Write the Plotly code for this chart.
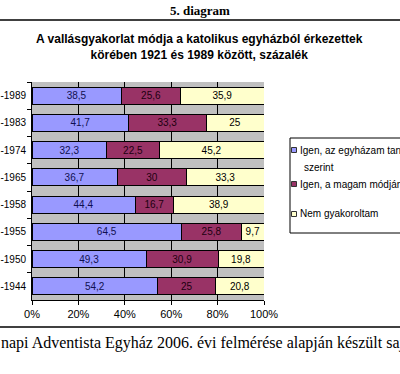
import plotly.graph_objects as go

categories = ["-1989", "-1983", "-1974", "-1965", "-1958", "-1955", "-1950", "-1944"]
church_way = [38.5, 41.7, 32.3, 36.7, 44.4, 64.5, 49.3, 54.2]
own_way = [25.6, 33.3, 22.5, 30, 16.7, 25.8, 30.9, 25]
not_practised = [35.9, 25, 45.2, 33.3, 38.9, 9.7, 19.8, 20.8]
series_names = ["Igen, az egyházam tanításai szerint", "Igen, a magam módján", "Nem gyakoroltam"]
legend_lines = [["Igen, az egyházam tanításai", "szerint"], ["Igen, a magam módján"], ["Nem gyakoroltam"]]
colors = ["#9999ff", "#993366", "#ffffcc"]
label_colors = ["#101050", "#200010", "#000000"]

def fmt(v):
    return ("%g" % v).replace(".", ",")

fig = go.Figure()
for vals, name, col, lc in zip([church_way, own_way, not_practised], series_names, colors, label_colors):
    fig.add_trace(go.Bar(
        y=categories, x=vals, orientation="h", name=name, showlegend=False,
        marker=dict(color=col, line=dict(color="black", width=1)),
        text=[fmt(v) for v in vals], textposition="inside", insidetextanchor="middle",
        constraintext="none", textangle=0,
        textfont=dict(family="Liberation Sans, Arial", size=10, color=lc),
    ))

W, H = 400, 374
L, R, T, B = 32, 264, 82, 300
def px(x): return (x - L) / (R - L)
def py(y): return (B - y) / (B - T)

fig.update_layout(
    width=W, height=H, barmode="stack", bargap=0.38,
    margin=dict(l=L, r=W - R, t=T, b=H - B, autoexpand=False),
    paper_bgcolor="white", plot_bgcolor="#c0c0c0",
    font=dict(family="Liberation Sans, Arial", size=11, color="black"),
    showlegend=False,
    xaxis=dict(range=[0, 100], dtick=20, ticksuffix="%", showgrid=True,
               gridcolor="black", gridwidth=1, showline=True, linecolor="black",
               ticks="outside", ticklen=4, tickcolor="black", zeroline=False,
               tickfont=dict(size=11), fixedrange=True),
    yaxis=dict(autorange="reversed", showline=True, linecolor="black",
               ticks="outside", ticklen=4, tickcolor="black", tickson="boundaries",
               ticklabelstandoff=3, tickfont=dict(size=10), fixedrange=True),
)

# manual legend (box, swatches, labels)
fig.add_shape(type="rect", xref="paper", yref="paper", x0=px(290), x1=px(402), y0=py(233), y1=py(138),
              fillcolor="white", line=dict(color="black", width=1), layer="above")
item_y = [150, 184, 214]
for lines, col, yy in zip(legend_lines, colors, item_y):
    fig.add_shape(type="rect", xref="paper", yref="paper", x0=px(291.5), x1=px(296.5),
                  y0=py(yy + 2.5), y1=py(yy - 2.5), fillcolor=col,
                  line=dict(color="#333333", width=1), layer="above")
    fig.add_annotation(text=lines[0], x=px(298), y=py(yy), xref="paper", yref="paper",
                       xanchor="left", yanchor="middle", showarrow=False,
                       font=dict(family="Liberation Sans, Arial", size=10))
    for k, extra in enumerate(lines[1:]):
        fig.add_annotation(text=extra, x=px(302), y=py(yy + 17 * (k + 1)), xref="paper", yref="paper",
                           xanchor="left", yanchor="middle", showarrow=False,
                           font=dict(family="Liberation Sans, Arial", size=10))

fig.add_annotation(text="<b>5. diagram</b>", x=px(200), y=py(10), xref="paper", yref="paper",
                   xanchor="center", yanchor="middle", showarrow=False,
                   font=dict(family="Liberation Serif, Times New Roman", size=13))
fig.add_annotation(text="<b>A vallásgyakorlat módja a katolikus egyházból érkezettek<br>körében 1921 és 1989 között, százalék</b>",
                   x=px(199), y=py(47), xref="paper", yref="paper", xanchor="center", yanchor="middle",
                   showarrow=False, font=dict(family="Liberation Sans, Arial", size=12))
fig.add_annotation(text="napi Adventista Egyház 2006. évi felmérése alapján készült saj",
                   x=px(-1), y=py(343), xref="paper", yref="paper", xanchor="left", yanchor="middle",
                   showarrow=False, font=dict(family="Liberation Serif, Times New Roman", size=16))
for yy in [20, 327]:
    fig.add_shape(type="line", xref="paper", yref="paper", x0=px(0), x1=px(400), y0=py(yy), y1=py(yy),
                  line=dict(color="black", width=1.5))

fig.write_html("out.html", config={"displayModeBar": False},
               post_script="document.body.style.margin='0';")
